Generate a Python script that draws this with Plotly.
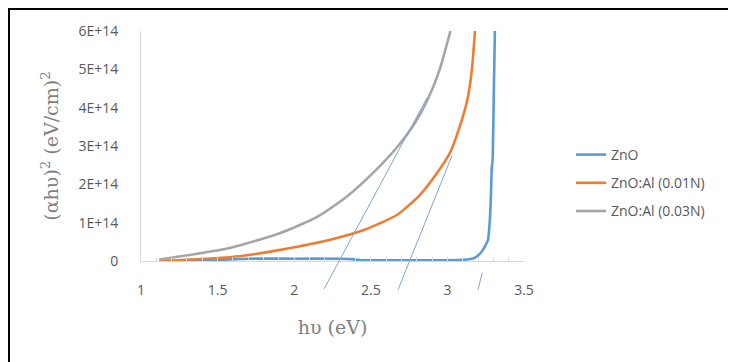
import plotly.graph_objects as go

# ---- data ----
zno_x = [1.12, 1.3, 1.5, 1.7, 2.0, 2.3, 2.38, 2.44, 2.6, 2.8, 3.0, 3.1, 3.15, 3.18, 3.21, 3.232, 3.25, 3.265, 3.278, 3.285, 3.29, 3.292, 3.297, 3.303, 3.31]
zno_y = [0.0, 0.01e14, 0.03e14, 0.06e14, 0.06e14, 0.06e14, 0.05e14, 0.02e14, 0.02e14, 0.02e14, 0.02e14, 0.03e14, 0.05e14, 0.09e14, 0.18e14, 0.29e14, 0.42e14, 0.55e14, 1.14e14, 1.8e14, 2.5e14, 2.35e14, 2.9e14, 4.4e14, 6.0e14]

al01_x = [1.12, 1.58, 1.78, 1.91, 2.23, 2.45, 2.67, 2.82, 2.93, 3.02, 3.08, 3.13, 3.16, 3.18]
al01_y = [0.0, 0.1e14, 0.2e14, 0.29e14, 0.55e14, 0.8e14, 1.2e14, 1.72e14, 2.28e14, 2.85e14, 3.5e14, 4.2e14, 5.0e14, 6.0e14]

al03_x = [1.12, 1.58, 1.91, 2.15, 2.34, 2.51, 2.67, 2.78, 2.87, 2.95, 3.02]
al03_y = [0.04e14, 0.34e14, 0.73e14, 1.15e14, 1.67e14, 2.28e14, 2.96e14, 3.55e14, 4.2e14, 5.0e14, 6.0e14]

# tangent (extrapolation) lines: start/end points
tan03_x = [2.195, 2.867]
tan03_y = [-0.73e14, 4.26e14]
tan01_x = [2.678, 3.03]
tan01_y = [-0.75e14, 2.75e14]
tanzno_x = [3.200, 3.228]
tanzno_y = [-0.75e14, -0.30e14]

names = ["ZnO", "ZnO:Al (0.01N)", "ZnO:Al (0.03N)"]
colors = ["#5B9BD5", "#ED7D31", "#A5A5A5"]
x_ticks = [1, 1.5, 2, 2.5, 3, 3.5]
x_labels = ["1", "1.5", "2", "2.5", "3", "3.5"]
y_ticks = [0, 1e14, 2e14, 3e14, 4e14, 5e14, 6e14]
y_labels = ["0", "1E+14", "2E+14", "3E+14", "4E+14", "5E+14", "6E+14"]

# ---- layout geometry (screen pixels; page body has an 8px margin) ----
OFF = 8
W, H = 736 - OFF, 362 - OFF
L, R = 141 - OFF, 524 - OFF     # plot x extent
T, B = 31 - OFF, 300 - OFF      # overlay area (extends below axis)
Y0 = 261 - OFF                  # pixel of y = 0
ph = B - T
main_dom0 = (B - Y0) / ph
ymax = 6e14
per_px = ymax / (Y0 - T)
y2_min = -(B - Y0) * per_px

def px_x(p):
    return (p - OFF - L) / (R - L)

def px_y(p):
    return (B - (p - OFF)) / ph

fig = go.Figure()
for xs, ys, n, c, g in [(zno_x, zno_y, names[0], colors[0], "a"),
                        (al01_x, al01_y, names[1], colors[1], "b"),
                        (al03_x, al03_y, names[2], colors[2], "c")]:
    fig.add_trace(go.Scatter(x=xs, y=ys, name=n, mode="lines", legendgroup=g,
                             line=dict(color=c, width=2.6, shape="spline", smoothing=0.6),
                             xaxis="x", yaxis="y"))

for xs, ys in [(tan03_x, tan03_y), (tan01_x, tan01_y), (tanzno_x, tanzno_y)]:
    fig.add_trace(go.Scatter(x=xs, y=ys, mode="lines", showlegend=False,
                             line=dict(color="#7FA7D3", width=1),
                             xaxis="x2", yaxis="y2", hoverinfo="skip"))

tick_font = dict(family="Open Sans", size=14, color="#595959")
title_font = dict(family="DejaVu Serif", size=19, color="#7F7F7F")

fig.update_layout(
    width=W, height=H,
    margin=dict(l=L, r=W - R, t=T, b=H - B, autoexpand=False),
    paper_bgcolor="white", plot_bgcolor="rgba(0,0,0,0)",
    showlegend=True,
    legend=dict(x=px_x(571), y=px_y(139), xanchor="left", yanchor="top",
                font=dict(family="Open Sans", size=14, color="#595959"),
                tracegroupgap=7, bgcolor="rgba(0,0,0,0)"),
    xaxis=dict(domain=[0, 1], range=[1, 3.5], anchor="y",
               tickmode="array", tickvals=x_ticks, ticktext=x_labels,
               showline=True, linecolor="#D9D9D9", linewidth=1,
               ticks="inside", ticklen=4, tickcolor="#D9D9D9",
               minor=dict(dtick=0.1, ticks="inside", ticklen=4, tickcolor="#D9D9D9"),
               showgrid=False, zeroline=False, tickfont=tick_font,
               ticklabelstandoff=16,
               title=dict(text="hυ (eV)", font=title_font, standoff=22)),
    yaxis=dict(domain=[main_dom0, 1], range=[0, ymax], anchor="x",
               tickmode="array", tickvals=y_ticks, ticktext=y_labels,
               showline=True, linecolor="#D9D9D9", linewidth=1,
               ticks="", showgrid=False, zeroline=False, tickfont=tick_font,
               ticklabelstandoff=19,
               title=dict(text="(αhυ)<sup>2</sup> (eV/cm)<sup>2</sup>", font=title_font, standoff=14)),
    xaxis2=dict(domain=[0, 1], range=[1, 3.5], anchor="y2", visible=False),
    yaxis2=dict(domain=[0, 1], range=[y2_min, ymax], anchor="x2", visible=False),
    shapes=[
        dict(type="rect", xref="paper", yref="paper",
             x0=px_x(6), x1=px_x(740), y0=px_y(6), y1=px_y(10),
             fillcolor="black", line=dict(width=0), layer="above"),
        dict(type="rect", xref="paper", yref="paper",
             x0=px_x(6), x1=px_x(10), y0=px_y(6), y1=px_y(370),
             fillcolor="black", line=dict(width=0), layer="above"),
    ],
)

fig.write_html("out.html")
